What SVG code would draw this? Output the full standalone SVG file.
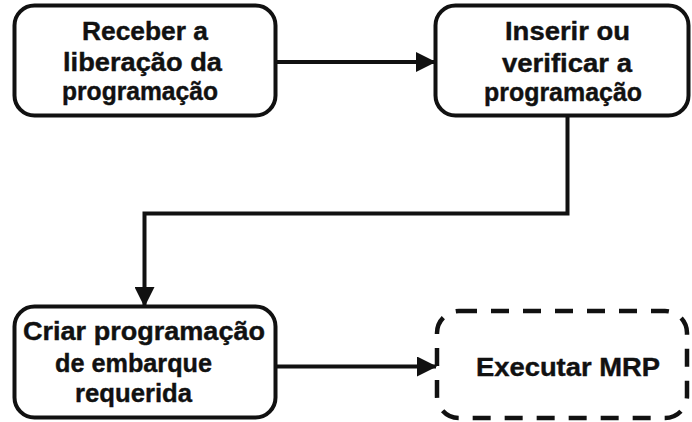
<svg xmlns="http://www.w3.org/2000/svg" width="692" height="422" viewBox="0 0 692 422">
<defs>
<style>
.box{fill:#fff;stroke:#111;stroke-width:4}
.dash{fill:#fff;stroke:#111;stroke-width:4.5;stroke-dasharray:18 14}
.lbl{font-family:"Liberation Sans",Arial,sans-serif;font-weight:bold;font-size:25.5px;fill:#111;stroke:#111;stroke-width:0.4}
.con{fill:none;stroke:#111;stroke-width:4}
</style>
<marker id="ah" markerUnits="userSpaceOnUse" markerWidth="20" markerHeight="20" refX="19" refY="10" orient="auto" viewBox="0 0 20 20">
<path d="M0,0 L20,10 L0,20 z" fill="#111"/>
</marker>
</defs>
<rect width="692" height="422" fill="#fff"/>
<g id="connectors">
<path class="con" d="M277,62 L435,62" marker-end="url(#ah)"/>
<path class="con" d="M567.5,117 L567.5,213.5 L144.5,213.5 L144.5,306" marker-end="url(#ah)"/>
<path class="con" d="M277,366.5 L436,366.5" marker-end="url(#ah)"/>
</g>
<g id="node1">
<rect class="box" x="14.5" y="5.5" width="261" height="110" rx="20"/>
<text class="lbl" x="82" y="40" textLength="126" lengthAdjust="spacingAndGlyphs">Receber a</text>
<text class="lbl" x="63" y="71" textLength="159" lengthAdjust="spacingAndGlyphs">liberação da</text>
<text class="lbl" x="62" y="100" textLength="156" lengthAdjust="spacingAndGlyphs">programação</text>
</g>
<g id="node2">
<rect class="box" x="435.5" y="5.5" width="253" height="110" rx="20"/>
<text class="lbl" x="505" y="40" textLength="125" lengthAdjust="spacingAndGlyphs">Inserir ou</text>
<text class="lbl" x="502" y="72" textLength="130" lengthAdjust="spacingAndGlyphs">verificar a</text>
<text class="lbl" x="484" y="101" textLength="158" lengthAdjust="spacingAndGlyphs">programação</text>
</g>
<g id="node3">
<rect class="box" x="14.5" y="306.5" width="261" height="111" rx="20"/>
<text class="lbl" x="23" y="340" textLength="242" lengthAdjust="spacingAndGlyphs">Criar programação</text>
<text class="lbl" x="55" y="372" textLength="157" lengthAdjust="spacingAndGlyphs">de embarque</text>
<text class="lbl" x="75" y="402" textLength="117" lengthAdjust="spacingAndGlyphs">requerida</text>
</g>
<g id="node4">
<rect class="dash" x="437" y="311" width="250" height="107" rx="22"/>
<text class="lbl" x="476" y="376" textLength="184" lengthAdjust="spacingAndGlyphs">Executar MRP</text>
</g>
</svg>
